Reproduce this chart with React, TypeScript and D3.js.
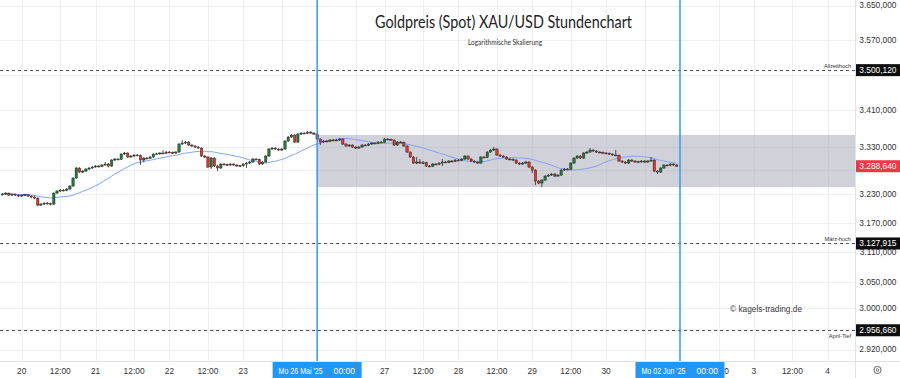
import React from 'react';
import * as d3 from 'd3';

// ---------- DATA (hourly XAU/USD candles, index 0 = 19 May 18:00) ----------
const opens = [
  3228.5,3229.7,3231.8,3227.6,3229.7,3227.6,3225.5,3227.6,3228.3,3225.5,
  3223.5,3221.4,3206.8,3208.8,3210.9,3210.2,3208.8,3231.8,3236.0,3238.1,
  3237.6,3240.3,3246.6,3263.5,3284.8,3276.2,3278.3,3282.6,3284.8,3286.9,
  3289.0,3288.4,3291.2,3293.3,3289.0,3301.8,3304.0,3303.5,3314.7,3316.9,
  3308.3,3310.4,3312.6,3312.0,3301.8,3306.1,3305.6,3308.3,3314.7,3315.2,
  3316.9,3316.4,3319.0,3318.5,3316.9,3319.0,3336.3,3338.4,3340.6,3334.1,
  3332.0,3329.8,3327.6,3310.4,3308.3,3286.9,3306.1,3289.0,3284.8,3293.3,
  3292.6,3291.2,3293.3,3291.2,3289.0,3289.6,3293.3,3295.4,3297.6,3304.0,
  3303.4,3293.3,3297.6,3310.4,3325.5,3327.6,3325.5,3323.3,3325.5,3342.8,
  3351.4,3355.8,3340.6,3357.9,3360.1,3359.5,3362.3,3360.1,3357.9,3347.1,
  3340.6,3342.8,3342.2,3344.9,3344.3,3344.9,3347.1,3336.3,3332.0,3334.1,
  3329.8,3327.6,3329.8,3334.1,3333.5,3336.3,3338.4,3337.9,3340.6,3340.0,
  3347.1,3346.5,3344.9,3334.1,3340.6,3340.1,3332.0,3319.0,3308.3,3295.4,
  3297.6,3295.4,3296.0,3289.0,3288.5,3293.3,3292.7,3295.4,3297.6,3297.0,
  3299.7,3299.1,3301.8,3301.2,3304.0,3310.4,3304.0,3299.7,3297.6,3295.4,
  3308.3,3307.7,3319.0,3323.3,3325.5,3312.6,3310.4,3308.3,3304.0,3303.5,
  3301.8,3295.4,3293.3,3295.4,3297.6,3286.9,3280.4,3257.1,3252.9,3259.2,
  3267.7,3269.8,3272.0,3267.7,3269.8,3280.4,3282.6,3282.0,3295.4,3306.1,
  3310.4,3306.1,3316.9,3319.0,3323.3,3321.2,3319.0,3318.4,3316.9,3316.3,
  3314.7,3312.6,3312.0,3299.7,3297.6,3295.4,3301.8,3299.7,3297.6,3298.2,
  3299.7,3297.6,3299.7,3301.8,3278.3,3276.2,3284.8,3291.2,3290.6,3293.3,
  3291.2,
];
const highs = [
  3232.0,3233.6,3233.0,3231.5,3230.8,3229.2,3229.5,3230.6,3229.4,3227.1,
  3226.8,3222.9,3211.0,3212.8,3213.2,3211.9,3233.5,3238.2,3240.5,3240.2,
  3242.1,3248.4,3265.4,3287.0,3286.3,3280.4,3284.5,3286.7,3289.1,3291.2,
  3291.0,3293.4,3297.8,3295.6,3303.9,3306.1,3306.0,3316.8,3319.4,3318.2,
  3312.6,3314.5,3314.9,3313.6,3308.0,3308.2,3310.4,3316.5,3317.6,3318.9,
  3323.3,3321.1,3321.3,3320.2,3321.0,3338.5,3345.0,3343.2,3342.4,3336.0,
  3333.9,3331.5,3329.4,3312.5,3310.0,3308.4,3308.0,3291.4,3295.2,3295.5,
  3294.4,3295.3,3294.8,3292.9,3291.8,3295.1,3297.5,3299.6,3306.2,3306.1,
  3305.0,3299.8,3312.3,3327.6,3329.8,3329.7,3327.3,3327.4,3344.7,3353.5,
  3358.0,3357.4,3360.2,3362.2,3362.0,3364.5,3363.9,3361.8,3359.6,3349.0,
  3344.9,3344.8,3347.0,3346.8,3347.3,3349.2,3348.8,3338.1,3336.2,3335.8,
  3331.6,3331.9,3336.0,3336.1,3338.3,3340.3,3340.2,3342.5,3342.4,3349.1,
  3349.2,3348.4,3346.7,3342.6,3342.7,3341.8,3333.8,3320.7,3310.1,3308.3,
  3304.0,3299.8,3297.9,3291.3,3295.2,3295.4,3297.4,3304.0,3300.1,3301.7,
  3301.9,3303.7,3304.0,3305.9,3312.4,3312.0,3305.8,3301.4,3299.3,3310.2,
  3310.3,3320.9,3325.4,3329.8,3327.0,3314.5,3312.2,3310.0,3306.0,3305.3,
  3303.5,3297.2,3297.5,3299.7,3299.3,3288.7,3282.3,3259.0,3261.3,3269.6,
  3271.9,3274.1,3273.8,3271.8,3282.4,3284.6,3284.7,3297.3,3308.2,3312.5,
  3312.3,3318.9,3321.2,3327.6,3325.2,3323.0,3321.0,3320.3,3318.8,3318.1,
  3316.4,3323.3,3313.8,3301.5,3299.4,3303.8,3303.6,3301.5,3300.3,3301.8,
  3301.6,3301.7,3308.3,3303.6,3280.2,3286.8,3293.1,3293.2,3295.2,3295.0,
  3293.0,
];
const lows = [
  3226.9,3228.2,3225.9,3226.1,3225.8,3223.9,3224.0,3225.9,3223.6,3221.2,
  3219.0,3204.5,3204.9,3207.1,3208.0,3206.0,3207.2,3230.0,3234.3,3235.4,
  3235.9,3238.5,3244.9,3261.8,3274.4,3274.1,3276.6,3280.9,3283.0,3285.3,
  3286.2,3286.5,3289.4,3285.9,3287.2,3300.1,3301.4,3301.9,3312.8,3306.5,
  3306.6,3308.7,3310.1,3291.5,3297.0,3303.4,3303.9,3306.6,3312.8,3313.3,
  3314.5,3314.8,3316.6,3314.9,3315.1,3317.3,3334.4,3336.5,3332.3,3330.1,
  3327.9,3325.6,3308.5,3305.9,3284.6,3282.8,3286.7,3278.3,3282.9,3290.4,
  3289.1,3289.4,3289.5,3287.2,3287.0,3287.8,3284.8,3293.5,3295.9,3301.3,
  3291.0,3291.6,3295.8,3308.7,3323.4,3323.6,3321.1,3321.5,3323.8,3340.9,
  3349.6,3338.5,3339.0,3356.0,3357.6,3357.8,3358.2,3356.0,3345.2,3334.1,
  3338.7,3340.3,3340.4,3342.2,3342.4,3343.0,3334.2,3330.0,3330.2,3327.9,
  3325.5,3325.8,3328.0,3331.6,3331.8,3334.5,3336.0,3336.2,3338.1,3338.3,
  3344.6,3343.0,3332.2,3332.4,3338.0,3330.1,3317.0,3306.3,3293.5,3293.2,
  3293.4,3293.3,3287.0,3286.4,3286.6,3290.6,3290.9,3289.0,3295.0,3295.2,
  3296.9,3297.3,3299.2,3299.5,3302.1,3302.3,3297.8,3295.6,3293.3,3293.6,
  3305.8,3306.0,3317.2,3321.4,3310.7,3308.3,3306.4,3302.0,3301.4,3299.7,
  3293.3,3291.2,3291.3,3293.6,3284.8,3274.1,3248.7,3250.6,3244.5,3257.3,
  3265.7,3268.0,3265.8,3265.9,3268.0,3278.5,3280.0,3280.2,3293.5,3304.2,
  3304.0,3304.3,3315.0,3317.2,3319.3,3317.1,3316.5,3314.9,3314.4,3312.8,
  3310.7,3310.1,3297.7,3295.5,3293.4,3293.5,3297.7,3295.6,3295.4,3296.2,
  3295.6,3295.8,3297.8,3276.1,3272.0,3274.3,3282.9,3288.7,3288.8,3289.3,
  3287.2,
];
const closes = [
  3229.7,3231.8,3227.6,3229.7,3227.6,3225.5,3227.6,3228.3,3225.5,3223.5,
  3221.4,3206.8,3208.8,3210.9,3210.2,3208.8,3231.8,3236.0,3238.1,3237.6,
  3240.3,3246.6,3263.5,3284.8,3276.2,3278.3,3282.6,3284.8,3286.9,3289.0,
  3288.4,3291.2,3293.3,3289.0,3301.8,3304.0,3303.5,3314.7,3316.9,3308.3,
  3310.4,3312.6,3312.0,3301.8,3306.1,3305.6,3308.3,3314.7,3315.2,3316.9,
  3316.4,3319.0,3318.5,3316.9,3319.0,3336.3,3338.4,3340.6,3334.1,3332.0,
  3329.8,3327.6,3310.4,3308.3,3286.9,3306.1,3289.0,3284.8,3293.3,3292.6,
  3291.2,3293.3,3291.2,3289.0,3289.6,3293.3,3295.4,3297.6,3304.0,3303.4,
  3293.3,3297.6,3310.4,3325.5,3327.6,3325.5,3323.3,3325.5,3342.8,3351.4,
  3355.8,3340.6,3357.9,3360.1,3359.5,3362.3,3360.1,3357.9,3347.1,3340.6,
  3342.8,3342.2,3344.9,3344.3,3344.9,3347.1,3336.3,3332.0,3334.1,3329.8,
  3327.6,3329.8,3334.1,3333.5,3336.3,3338.4,3337.9,3340.6,3340.0,3347.1,
  3346.5,3344.9,3334.1,3340.6,3340.1,3332.0,3319.0,3308.3,3295.4,3297.6,
  3295.4,3296.0,3289.0,3288.5,3293.3,3292.7,3295.4,3297.6,3297.0,3299.7,
  3299.1,3301.8,3301.2,3304.0,3310.4,3304.0,3299.7,3297.6,3295.4,3308.3,
  3307.7,3319.0,3323.3,3325.5,3312.6,3310.4,3308.3,3304.0,3303.5,3301.8,
  3295.4,3293.3,3295.4,3297.6,3286.9,3280.4,3257.1,3252.9,3259.2,3267.7,
  3269.8,3272.0,3267.7,3269.8,3280.4,3282.6,3282.0,3295.4,3306.1,3310.4,
  3306.1,3316.9,3319.0,3323.3,3321.2,3319.0,3318.4,3316.9,3316.3,3314.7,
  3312.6,3312.0,3299.7,3297.6,3295.4,3301.8,3299.7,3297.6,3298.2,3299.7,
  3297.6,3299.7,3301.8,3278.3,3276.2,3284.8,3291.2,3290.6,3293.3,3291.2,
  3288.64,
];
const MA_PERIOD = 20;

// time-axis ticks (bar index) and their labels; labels under the marker boxes are not shown
const tickIndex = [6, 18, 29, 41, 52, 64, 75, 87, 98, 110, 119, 131, 142, 154, 165, 177, 188, 200, 211, 223, 234, 246, 257];
const tickLabels = ['20', '12:00', '21', '12:00', '22', '12:00', '23', '', '', '', '27', '12:00', '28', '12:00', '29', '12:00', '30', '', '', '12:00', '3', '12:00', '4'];
const yTickValues = [3650, 3570, 3490, 3410, 3330, 3280, 3230, 3170, 3110, 3050, 3000, 2960, 2920];

const levelValues = [3500.12, 3127.915, 2956.66];
const levelNames = ['Allzeithoch', 'März-hoch', 'April-Tief'];
const zoneTop = 3356;
const zoneBottom = 3244.5;
const zoneStartIndex = 98;
const markerIndex = [98, 211];
const markerDates = ["Mo 26 Mai '25", "Mo 02 Jun '25"];
const markerTime = '00:00';

const title = 'Goldpreis (Spot) XAU/USD Stundenchart';
const subtitle = 'Logarithmische Skalierung';
const watermark = '© kagels-trading.de';

export default function App() {
  const W = 900;
  const H = 378;
  const plotR = 855;
  const axisY = 361;
  const x = d3.scaleLinear().domain([0, 257]).range([2.43, 827.7]);
  const y = d3.scaleLog().domain([2920, 3650]).range([349.5, 5.5]);
  const de = d3.formatLocale({ decimal: ',', thousands: '.', grouping: [3], currency: ['', ''] });
  const fmt = de.format(',.3f');
  const ma = closes.map((_, i) => d3.mean(closes.slice(Math.max(0, i - MA_PERIOD + 1), i + 1)) as number);
  const maPath = d3.line<number>().x((_, i) => x(i)).y((d) => y(d)).curve(d3.curveMonotoneX)(ma) || '';
  const font = "'Liberation Sans', Arial, sans-serif";
  const bw = 2.4;
  const lastClose = closes[closes.length - 1];
  const green = '#237a3c';
  const red = '#e2342c';
  const px = (v: number) => Math.round(v) + 0.5;
  const boxHalf = 44.5;
  const boxedValues = [...levelValues, lastClose];
  const coveredByBox = (v: number) => boxedValues.some((b) => Math.abs(y(b) - y(v)) < 6);

  return (
    <svg width={W} height={H} style={{ position: 'absolute', left: 0, top: 0 }} fontFamily={font}>
      <defs>
        <clipPath id="axisClip">
          <rect x={x(markerIndex[1]) + boxHalf} y={axisY} width={plotR - x(markerIndex[1]) - boxHalf} height={H - axisY} />
        </clipPath>
      </defs>
      <rect x={0} y={0} width={W} height={H} fill="#ffffff" />

      {/* grid */}
      <g stroke="#eef0f4" strokeWidth={1}>
        {yTickValues.map((v) => (
          <line key={'h' + v} x1={0} x2={plotR} y1={px(y(v))} y2={px(y(v))} />
        ))}
        {tickIndex.map((i) => (
          <line key={'v' + i} x1={px(x(i))} x2={px(x(i))} y1={0} y2={axisY} />
        ))}
      </g>

      {/* zone */}
      <rect
        x={x(zoneStartIndex)}
        y={y(zoneTop)}
        width={plotR - x(zoneStartIndex)}
        height={y(zoneBottom) - y(zoneTop)}
        fill="#9a9aab"
        fillOpacity={0.45}
      />

      {/* level lines */}
      {levelValues.map((v, k) => (
        <g key={'lvl' + k}>
          <line x1={0} x2={plotR} y1={px(y(v))} y2={px(y(v))} stroke="#555" strokeWidth={1} strokeDasharray="3,3" />
          <text x={851} y={k === 2 ? y(v) + 7.5 : y(v) - 2.5} textAnchor="end" fontSize={5.6} fill="#333">
            {levelNames[k]}
          </text>
        </g>
      ))}

      {/* title */}
      <text x={503.5} y={28} textAnchor="middle" fontSize={17} fill="#222" fontFamily="Lato, 'Open Sans', sans-serif" textLength={257} lengthAdjust="spacingAndGlyphs">
        {title}
      </text>
      <text x={505} y={45} textAnchor="middle" fontSize={7} fill="#333" fontFamily="Lato, 'Open Sans', sans-serif" textLength={74} lengthAdjust="spacingAndGlyphs">
        {subtitle}
      </text>

      {/* moving average */}
      <path d={maPath} fill="none" stroke="#7ea5f3" strokeWidth={1} />

      {/* candles */}
      <g>
        {closes.map((c, i) => {
          const o = opens[i];
          const cx = x(i);
          const up = c >= o;
          const top = y(Math.max(o, c));
          const bot = y(Math.min(o, c));
          const h = Math.max(bot - top, 0.9);
          return (
            <g key={'c' + i}>
              <line x1={cx} x2={cx} y1={y(highs[i])} y2={y(lows[i])} stroke="#2a2a2a" strokeWidth={0.8} />
              <rect x={cx - bw / 2} y={top} width={bw} height={h} fill={up ? green : red} stroke="#1a1a1a" strokeWidth={0.4} />
            </g>
          );
        })}
      </g>

      {/* vertical markers */}
      {markerIndex.map((i) => (
        <line key={'m' + i} x1={x(i)} x2={x(i)} y1={0} y2={axisY} stroke="#2196f3" strokeWidth={1.4} />
      ))}

      {/* watermark */}
      <text x={766} y={312} textAnchor="middle" fontSize={9.6} fill="#3a3a3a" textLength={72} lengthAdjust="spacingAndGlyphs">
        {watermark}
      </text>

      {/* right axis */}
      <rect x={plotR + 0.5} y={0} width={W - plotR} height={H} fill="#fff" />
      <line x1={plotR + 0.5} x2={plotR + 0.5} y1={0} y2={H} stroke="#e0e3eb" strokeWidth={1} />
      {yTickValues.filter((v) => !coveredByBox(v)).map((v) => (
        <text key={'yl' + v} x={896.5} y={y(v)} dy="0.35em" textAnchor="end" fontSize={8.4} fill="#333">
          {fmt(v)}
        </text>
      ))}
      {levelValues.map((v, k) => (
        <g key={'lb' + k}>
          <rect x={856} y={y(v) - 6} width={44} height={12} fill="#0d0d0d" />
          <text x={896.5} y={y(v)} dy="0.35em" textAnchor="end" fontSize={8.4} fill="#fff">
            {fmt(v)}
          </text>
        </g>
      ))}
      <rect x={856} y={y(lastClose) - 6} width={44} height={12} fill="#f23645" />
      <text x={896.5} y={y(lastClose)} dy="0.35em" textAnchor="end" fontSize={8.4} fill="#fff">
        {fmt(lastClose)}
      </text>

      {/* bottom axis */}
      <rect x={0} y={axisY} width={plotR} height={H - axisY} fill="#fff" />
      <line x1={0} x2={W} y1={axisY + 0.5} y2={axisY + 0.5} stroke="#e0e3eb" strokeWidth={1} />
      {tickIndex.map((i, k) => {
        const label = tickLabels[k];
        if (!label) return null;
        const partlyHidden = Math.abs(x(i) - x(markerIndex[1])) < boxHalf;
        return (
          <text
            key={'xl' + i}
            x={x(i)}
            y={373.5}
            textAnchor="middle"
            fontSize={8.4}
            fill="#333"
            clipPath={partlyHidden ? 'url(#axisClip)' : undefined}
          >
            {label}
          </text>
        );
      })}
      {markerIndex.map((i, k) => (
        <g key={'mb' + i}>
          <rect x={x(i) - boxHalf} y={axisY + 1} width={boxHalf * 2} height={H - axisY - 1} fill="#2196f3" />
          <text x={x(i) - 38.5} y={373.5} fontSize={8.4} fill="#fff" textLength={44} lengthAdjust="spacingAndGlyphs">
            {markerDates[k]}
          </text>
          <text x={x(i) + 16.5} y={373.5} fontSize={8.4} fill="#fff" textLength={21.5} lengthAdjust="spacingAndGlyphs">
            {markerTime}
          </text>
        </g>
      ))}
      <line x1={plotR + 0.5} x2={plotR + 0.5} y1={axisY} y2={H} stroke="#e0e3eb" strokeWidth={1} />
      <circle cx={877.5} cy={370} r={3.6} fill="none" stroke="#555" strokeWidth={0.9} />
      <circle cx={877.5} cy={370} r={1.3} fill="none" stroke="#555" strokeWidth={0.8} />
    </svg>
  );
}
